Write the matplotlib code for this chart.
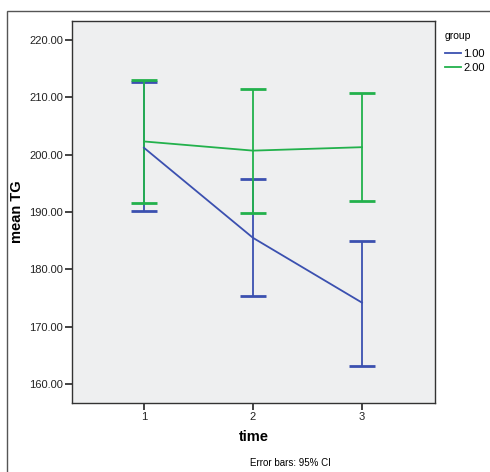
import matplotlib
matplotlib.use("Agg")
import matplotlib.pyplot as plt
from matplotlib.patches import Rectangle
from matplotlib.lines import Line2D

plt.rcParams['font.family'] = ['Liberation Sans', 'DejaVu Sans']

time = [1, 2, 3]
groups = ["1.00", "2.00"]
means = {"1.00": [201.2, 185.5, 174.2], "2.00": [202.3, 200.7, 201.3]}
upper = {"1.00": [212.6, 195.7, 185.0], "2.00": [213.0, 211.5, 210.7]}
lower = {"1.00": [190.1, 175.3, 163.2], "2.00": [191.5, 189.8, 192.0]}
colors = {"1.00": "#3b50b0", "2.00": "#22b14c"}
yticks = [160, 170, 180, 190, 200, 210, 220]

fig = plt.figure(figsize=(4.9, 4.72), dpi=100)
# outer chart frame
fig.patches.append(Rectangle((7 / 490, -0.1), 1.2, 1 - 11 / 472 + 0.1,
                             transform=fig.transFigure, fill=False,
                             edgecolor="#555555", linewidth=1.0))

ax = fig.add_axes([72 / 490, 1 - 403 / 472, (435 - 72) / 490, (403 - 21) / 472])
ax.set_facecolor("#eeeff0")

handles = []
for g in groups:
    m = means[g]
    yerr = [[m[i] - lower[g][i] for i in range(3)],
            [upper[g][i] - m[i] for i in range(3)]]
    ax.errorbar(time, m, yerr=yerr, color=colors[g], linewidth=1.3,
                elinewidth=1.3, capsize=9.5, capthick=2.0)
    handles.append(Line2D([], [], color=colors[g], linewidth=1.3, label=g))

ax.set_xlim(0.34, 3.67)
ax.set_ylim(156.7, 223.3)
ax.set_xticks(time)
ax.set_xticklabels([str(t) for t in time])
ax.set_yticks(yticks)
ax.set_yticklabels(["%.2f" % v for v in yticks])
ax.tick_params(labelsize=8, length=5, width=1.2, colors="#222222",
               direction="out", pad=1.5)
for s in ax.spines.values():
    s.set_color("#333333")
    s.set_linewidth(1.0)

ax.set_xlabel("time", fontsize=10.5, fontweight="bold", labelpad=6)
ax.set_ylabel("mean TG", fontsize=10.5, fontweight="bold", labelpad=4)

fig.text(290 / 490, 1 - 463 / 472, "Error bars: 95% CI", fontsize=7,
         ha="center", va="center")

leg = ax.legend(handles=handles, loc="upper left", bbox_to_anchor=(1.0, 1.0),
                frameon=False, title="group", fontsize=8, title_fontsize=7.5,
                handlelength=1.4, handletextpad=0.25, labelspacing=0.3,
                borderaxespad=0.5)
leg._legend_box.align = "left"
leg._legend_box.sep = 6

fig.savefig("out.png", dpi=100)
